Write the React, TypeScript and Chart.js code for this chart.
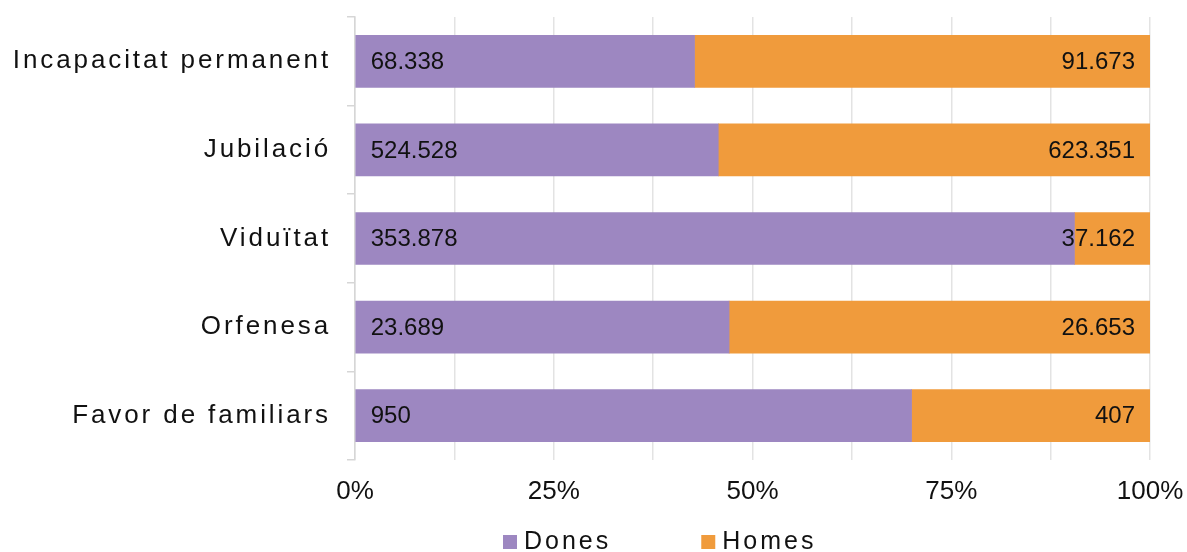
import React, { useEffect, useRef } from "react";
import { Chart, registerables } from "chart.js";

Chart.register(...registerables);

const categories = ["Incapacitat permanent", "Jubilació", "Viduïtat", "Orfenesa", "Favor de familiars"];
const dones = [68338, 524528, 353878, 23689, 950];
const homes = [91673, 623351, 37162, 26653, 407];
const seriesNames = ["Dones", "Homes"];
const xTickLabels = ["0%", "25%", "50%", "75%", "100%"];

const COLORS = ["#9d87c1", "#f09b3c"];
const FONT = '"Liberation Sans", Arial, sans-serif';
const TEXT = "#111111";

const fmt = (n: number) => n.toString().replace(/\B(?=(\d{3})+(?!\d))/g, ".");

export default function App() {
  const ref = useRef<HTMLCanvasElement | null>(null);

  useEffect(() => {
    if (!ref.current) return;
    const pctD = dones.map((d, i) => (d / (d + homes[i])) * 100);
    const pctH = homes.map((h, i) => (h / (dones[i] + h)) * 100);
    const raw = [dones, homes];

    const labelsPlugin = {
      id: "customLabels",
      afterDatasetsDraw(chart: any) {
        const ctx = chart.ctx;
        ctx.save();
        ctx.font = `24px ${FONT}`;
        ctx.fillStyle = TEXT;
        ctx.textBaseline = "middle";
        chart.data.datasets.forEach((ds: any, di: number) => {
          const meta = chart.getDatasetMeta(di);
          meta.data.forEach((el: any, i: number) => {
            const txt = fmt(raw[di][i]);
            if (di === 0) {
              ctx.textAlign = "left";
              ctx.fillText(txt, Math.min(el.x, el.base) + 15, el.y + 1);
            } else {
              ctx.textAlign = "right";
              ctx.fillText(txt, Math.max(el.x, el.base) - 15, el.y + 1);
            }
          });
        });
        ctx.restore();
      },
      afterDraw(chart: any) {
        const ctx = chart.ctx;
        const yScale = chart.scales.y;
        ctx.save();
        ctx.fillStyle = TEXT;
        ctx.font = `26px ${FONT}`;
        (ctx as any).letterSpacing = "2.9px";
        ctx.textAlign = "right";
        ctx.textBaseline = "middle";
        categories.forEach((c, i) => {
          ctx.fillText(c, chart.chartArea.left - 24, yScale.getPixelForValue(i));
        });
        // legend
        ctx.font = `25px ${FONT}`;
        (ctx as any).letterSpacing = "3px";
        ctx.textAlign = "left";
        let x = 503;
        const yc = 542;
        seriesNames.forEach((s, i) => {
          ctx.fillStyle = COLORS[i];
          ctx.fillRect(x, yc - 7, 14, 14);
          ctx.fillStyle = TEXT;
          ctx.fillText(s, x + 21, yc);
          x += 21 + ctx.measureText(s).width + 90;
        });
        ctx.restore();
      },
    };

    const chart = new Chart(ref.current, {
      type: "bar",
      data: {
        labels: categories,
        datasets: [
          { label: seriesNames[0], data: pctD, backgroundColor: COLORS[0], barThickness: 52 },
          { label: seriesNames[1], data: pctH, backgroundColor: COLORS[1], barThickness: 52 },
        ],
      },
      options: {
        indexAxis: "y",
        responsive: false,
        animation: false,
        layout: { padding: { left: 0, right: 37, top: 17, bottom: 0 } },
        plugins: { legend: { display: false }, tooltip: { enabled: false } },
        scales: {
          x: {
            stacked: true,
            min: 0,
            max: 100,
            border: { display: false },
            grid: { color: "#e3e3e3", lineWidth: 1.5, drawTicks: false },
            ticks: {
              stepSize: 12.5,
              padding: 16,
              color: TEXT,
              font: { family: FONT, size: 26 },
              autoSkip: false,
              maxRotation: 0,
              callback: (v: any) => (Number(v) % 25 === 0 ? xTickLabels[Number(v) / 25] : ""),
            },
            afterFit: (s: any) => {
              s.height = 92;
              s.paddingLeft = 0;
              s.paddingRight = 0;
            },
          },
          y: {
            stacked: true,
            border: { display: true, color: "#d6d6d6", width: 1.5 },
            grid: { drawOnChartArea: false, drawTicks: true, tickLength: 8, color: "#d6d6d6", lineWidth: 1.5 },
            ticks: { display: false },
            afterFit: (s: any) => {
              s.width = 355;
            },
          },
        },
      },
      plugins: [labelsPlugin],
    });
    return () => chart.destroy();
  }, []);

  return (
    <div style={{ position: "fixed", left: 0, top: 0, width: 1187, height: 552, background: "#fff" }}>
      <canvas ref={ref} width={1187} height={552} />
    </div>
  );
}
